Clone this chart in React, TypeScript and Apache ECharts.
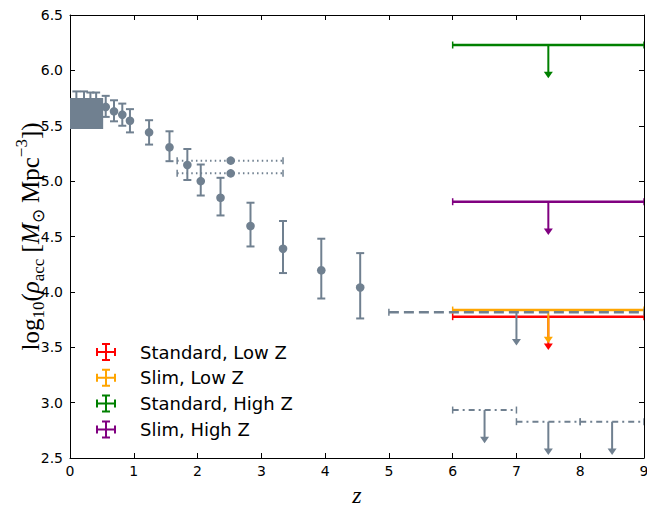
import React, { useEffect, useRef } from "react";
import * as echarts from "echarts";

// ---------- data ----------
const xTicks = [0, 1, 2, 3, 4, 5, 6, 7, 8, 9];
const yTicks = [2.5, 3.0, 3.5, 4.0, 4.5, 5.0, 5.5, 6.0, 6.5];

// grey block at low z
const rectZ = [0, 0.52];
const rectY = [5.47, 5.75];

// grey points hidden behind the block (only caps visible)
const hiddenZ = [0.1, 0.22, 0.32, 0.41];
const hiddenY = [5.66, 5.66, 5.66, 5.66];
const hiddenYLo = [5.51, 5.51, 5.51, 5.51];
const hiddenYHi = [5.81, 5.81, 5.8, 5.8];

// grey data points with vertical error bars
const greyZ = [0.56, 0.69, 0.82, 0.94, 1.24, 1.56, 1.84, 2.05, 2.36, 2.83, 3.34, 3.94, 4.55];
const greyY = [5.67, 5.63, 5.6, 5.545, 5.44, 5.305, 5.146, 5.0, 4.85, 4.595, 4.39, 4.195, 4.04];
const greyYLo = [5.58, 5.54, 5.5, 5.44, 5.33, 5.18, 5.01, 4.87, 4.69, 4.41, 4.17, 3.94, 3.76];
const greyYHi = [5.77, 5.73, 5.7, 5.65, 5.55, 5.45, 5.29, 5.15, 5.03, 4.805, 4.64, 4.48, 4.35];

// grey binned points with dotted horizontal bars
const binZ = [2.52, 2.52];
const binY = [5.185, 5.07];
const binZLo = [1.68, 1.68];
const binZHi = [3.34, 3.34];

// upper limits (arrow length in dex)
const limErr = 0.3;
const dashZ = [7.0];
const dashY = [3.816];
const dashZLo = [5.0];
const dashZHi = [9.0];

const dashDotZ = [6.5, 7.5, 8.5];
const dashDotY = [2.933, 2.828, 2.828];
const dashDotZLo = [6.0, 7.0, 8.0];
const dashDotZHi = [7.0, 8.0, 9.0];

const modelNames = ["Standard, Low Z", "Slim, Low Z", "Standard, High Z", "Slim, High Z"];
const modelColors = ["#ff0000", "#ffa500", "#008000", "#800080"];
const modelZ = [7.5, 7.5, 7.5, 7.5];
const modelY = [3.776, 3.836, 6.229, 4.814];
const modelZLo = [6.0, 6.0, 6.0, 6.0];
const modelZHi = [9.0, 9.0, 9.0, 9.0];

const GREY = "#708090";

// row: [x, y, xlo, xhi, ylo, yhi]
type Opts = {
  color: string;
  hDash?: number[] | null;
  hWidth?: number;
  vWidth?: number;
  marker?: boolean;
  arrow?: boolean;
};

function makeRender(o: Opts) {
  return (params: any, api: any) => {
    const x = api.value(0);
    const y = api.value(1);
    const xlo = api.value(2);
    const xhi = api.value(3);
    const ylo = api.value(4);
    const yhi = api.value(5);
    const ch: any[] = [];
    const c = o.color;
    if (xlo !== xhi) {
      const a = api.coord([xlo, y]);
      const b = api.coord([xhi, y]);
      ch.push({
        type: "line",
        shape: { x1: a[0], y1: a[1], x2: b[0], y2: b[1] },
        style: { stroke: c, lineWidth: o.hWidth || 2, lineDash: o.hDash || null, fill: null },
      });
      for (const p of [a, b]) {
        ch.push({
          type: "line",
          shape: { x1: p[0], y1: p[1] - 3.5, x2: p[0], y2: p[1] + 3.5 },
          style: { stroke: c, lineWidth: 1.5 },
        });
      }
    }
    if (ylo !== yhi) {
      const a = api.coord([x, ylo]);
      const b = api.coord([x, yhi]);
      if (o.arrow) {
        ch.push({
          type: "line",
          shape: { x1: b[0], y1: b[1], x2: a[0], y2: a[1] - 5 },
          style: { stroke: c, lineWidth: o.vWidth || 2 },
        });
        ch.push({
          type: "polygon",
          shape: { points: [[a[0] - 4.5, a[1] - 6.5], [a[0] + 4.5, a[1] - 6.5], [a[0], a[1]]] },
          style: { fill: c, stroke: null },
        });
      } else {
        ch.push({
          type: "line",
          shape: { x1: a[0], y1: a[1], x2: b[0], y2: b[1] },
          style: { stroke: c, lineWidth: o.vWidth || 2 },
        });
        for (const p of [a, b]) {
          ch.push({
            type: "line",
            shape: { x1: p[0] - 4, y1: p[1], x2: p[0] + 4, y2: p[1] },
            style: { stroke: c, lineWidth: 2 },
          });
        }
      }
    }
    if (o.marker) {
      const m = api.coord([x, y]);
      ch.push({ type: "circle", shape: { cx: m[0], cy: m[1], r: 4.3 }, style: { fill: c, stroke: null } });
    }
    return { type: "group", children: ch };
  };
}

function rows(zs: number[], ys: number[], zlo: number[] | null, zhi: number[] | null, ylo: number[] | null, yhi: number[] | null) {
  return zs.map((z, i) => [
    z,
    ys[i],
    zlo ? zlo[i] : z,
    zhi ? zhi[i] : z,
    ylo ? ylo[i] : ys[i],
    yhi ? yhi[i] : ys[i],
  ]);
}

const ICON =
  "path://M0,8h20v2h-20z M9,0h2v18h-2z M0,5h2v8h-2z M18,5h2v8h-2z M6,0h8v2h-8z M6,16h8v2h-8z";

export default function App() {
  const ref = useRef<HTMLDivElement>(null);
  useEffect(() => {
    if (!ref.current) return;
    const chart = echarts.init(ref.current, null, { renderer: "svg" });

    const common = {
      type: "custom",
      xAxisIndex: 0,
      yAxisIndex: 0,
      clip: true,
      silent: true,
    };

    const series: any[] = [];
    series.push({
      ...common,
      name: "hidden",
      renderItem: makeRender({ color: GREY, marker: true }),
      data: rows(hiddenZ, hiddenY, null, null, hiddenYLo, hiddenYHi),
    });
    series.push({
      ...common,
      name: "block",
      renderItem: (p: any, api: any) => {
        const a = api.coord([api.value(0), api.value(1)]);
        const b = api.coord([api.value(2), api.value(3)]);
        return {
          type: "rect",
          shape: { x: a[0], y: b[1], width: b[0] - a[0], height: a[1] - b[1] },
          style: { fill: GREY },
        };
      },
      data: [[rectZ[0], rectY[0], rectZ[1], rectY[1]]],
    });
    series.push({
      ...common,
      name: "grey",
      renderItem: makeRender({ color: GREY, marker: true }),
      data: rows(greyZ, greyY, null, null, greyYLo, greyYHi),
    });
    series.push({
      ...common,
      name: "bins",
      renderItem: makeRender({ color: GREY, marker: true, hDash: [1.5, 3.2], hWidth: 2 }),
      data: rows(binZ, binY, binZLo, binZHi, null, null),
    });
    modelNames.forEach((n, i) => {
      series.push({
        ...common,
        name: n,
        itemStyle: { color: modelColors[i] },
        renderItem: makeRender({ color: modelColors[i], arrow: true, hWidth: 2.6 }),
        data: rows([modelZ[i]], [modelY[i]], [modelZLo[i]], [modelZHi[i]], [modelY[i] - limErr], [modelY[i]]),
      });
    });
    series.push({
      ...common,
      name: "dashLim",
      renderItem: makeRender({ color: GREY, arrow: true, hDash: [10, 5], hWidth: 2.4 }),
      data: rows(dashZ, dashY, dashZLo, dashZHi, dashY.map((v) => v - limErr), dashY),
    });
    series.push({
      ...common,
      name: "dashDotLim",
      renderItem: makeRender({ color: GREY, arrow: true, hDash: [6, 4, 2, 4], hWidth: 2 }),
      data: rows(dashDotZ, dashDotY, dashDotZLo, dashDotZHi, dashDotY.map((v) => v - limErr), dashDotY),
    });

    const tickLabel = { color: "#000", fontFamily: "DejaVu Sans", fontSize: 14 };
    const axLine = { show: true, onZero: false, lineStyle: { color: "#000", width: 1 } };
    const tick = { show: true, inside: true, length: 5, lineStyle: { color: "#000", width: 1 } };

    const serif = "Liberation Serif";
    const yName =
      "{r|log}{sub|10}{r|(}{i|ρ}{sub|acc}{r| [}{i|M}{sub|⊙}{r| Mpc}{sup|−3}{r|])}";

    chart.setOption({
      animation: false,
      backgroundColor: "#fff",
      grid: { left: 70, top: 15, width: 574, height: 443, containLabel: false, outerBoundsMode: "none" },
      legend: {
        show: true,
        orient: "vertical",
        left: 96,
        top: 343,
        padding: 0,
        itemWidth: 20,
        itemHeight: 18,
        itemGap: 7.8,
        textStyle: {
          color: "#000",
          fontFamily: "DejaVu Sans",
          fontSize: 18,
          lineHeight: 18,
          padding: [0, 0, 0, 19],
        },
        data: modelNames.map((n) => ({ name: n, icon: ICON })),
        selectedMode: false,
      },
      xAxis: [
        {
          type: "value",
          min: 0,
          max: 9,
          interval: 1,
          position: "bottom",
          axisLine: axLine,
          axisTick: tick,
          axisLabel: { ...tickLabel, margin: 6 },
          splitLine: { show: false },
          name: "z",
          nameLocation: "middle",
          nameGap: 25,
          nameMoveOverlap: false,
          nameTextStyle: { fontFamily: serif, fontStyle: "italic", fontSize: 24, color: "#000" },
        },
        {
          type: "value",
          min: 0,
          max: 9,
          interval: 1,
          position: "top",
          axisLine: axLine,
          axisTick: tick,
          axisLabel: { show: false },
          splitLine: { show: false },
        },
      ],
      yAxis: [
        {
          type: "value",
          min: 2.5,
          max: 6.5,
          interval: 0.5,
          position: "left",
          axisLine: axLine,
          axisTick: tick,
          axisLabel: { ...tickLabel, margin: 7, formatter: (v: number) => v.toFixed(1) },
          splitLine: { show: false },
          name: yName,
          nameLocation: "middle",
          nameRotate: 90,
          nameGap: 23,
          nameMoveOverlap: false,
          nameTextStyle: {
            color: "#000",
            rich: {
              r: { fontFamily: serif, fontSize: 25, color: "#000", lineHeight: 34 },
              i: { fontFamily: serif, fontStyle: "italic", fontSize: 25, color: "#000", lineHeight: 34 },
              sub: { fontFamily: serif, fontSize: 17, color: "#000", verticalAlign: "bottom", lineHeight: 19 },
              sup: { fontFamily: serif, fontSize: 17, color: "#000", verticalAlign: "top", lineHeight: 19 },
            },
          },
        },
        {
          type: "value",
          min: 2.5,
          max: 6.5,
          interval: 0.5,
          position: "right",
          axisLine: axLine,
          axisTick: tick,
          axisLabel: { show: false },
          splitLine: { show: false },
        },
      ],
      series,
    });
    return () => chart.dispose();
  }, []);
  return <div ref={ref} style={{ width: 647, height: 508, position: "absolute", left: 0, top: 0 }} />;
}
